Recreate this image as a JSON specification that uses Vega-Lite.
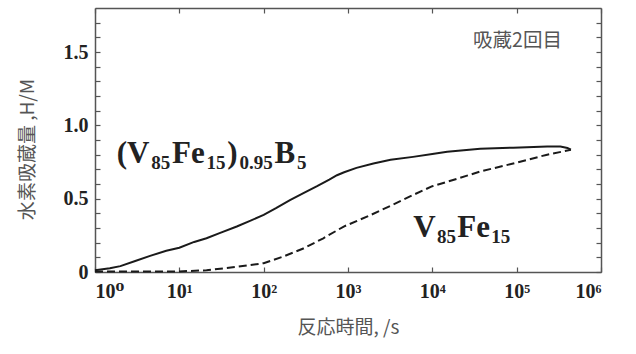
{
  "$schema": "https://vega.github.io/schema/vega-lite/v6.json",
  "autosize": "none",
  "width": 506,
  "height": 264,
  "padding": {"left": 95, "top": 8, "right": 35, "bottom": 82},
  "background": "white",
  "config": {
    "view": {"stroke": null},
    "axis": {
      "grid": false,
      "domainColor": "#555555",
      "domainWidth": 1.5,
      "tickColor": "#555555",
      "tickWidth": 1.2,
      "tickSize": -5,
      "labelFont": "Liberation Serif, DejaVu Serif",
      "labelFontWeight": "bold",
      "labelColor": "#222222",
      "labelFontSize": 20,
      "titleFont": "Noto Sans CJK JP",
      "titleFontWeight": "normal",
      "titleColor": "#555555",
      "titleFontSize": 19,
      "labelOverlap": false
    }
  },
  "datasets": {
    "curves": [
      {"series": "B", "t": 1, "v": 0.012},
      {"series": "B", "t": 1.5, "v": 0.025},
      {"series": "B", "t": 2, "v": 0.04},
      {"series": "B", "t": 3, "v": 0.075},
      {"series": "B", "t": 4.5, "v": 0.11},
      {"series": "B", "t": 7, "v": 0.145},
      {"series": "B", "t": 10, "v": 0.165},
      {"series": "B", "t": 15, "v": 0.205},
      {"series": "B", "t": 21, "v": 0.23},
      {"series": "B", "t": 30, "v": 0.265},
      {"series": "B", "t": 48, "v": 0.31},
      {"series": "B", "t": 70, "v": 0.35},
      {"series": "B", "t": 100, "v": 0.39},
      {"series": "B", "t": 140, "v": 0.435},
      {"series": "B", "t": 205, "v": 0.49},
      {"series": "B", "t": 300, "v": 0.54},
      {"series": "B", "t": 430, "v": 0.585},
      {"series": "B", "t": 600, "v": 0.63},
      {"series": "B", "t": 740, "v": 0.66},
      {"series": "B", "t": 900, "v": 0.68},
      {"series": "B", "t": 1260, "v": 0.71},
      {"series": "B", "t": 2000, "v": 0.74},
      {"series": "B", "t": 3200, "v": 0.765},
      {"series": "B", "t": 5900, "v": 0.785},
      {"series": "B", "t": 10000, "v": 0.805},
      {"series": "B", "t": 15000, "v": 0.82},
      {"series": "B", "t": 37000, "v": 0.84},
      {"series": "B", "t": 91000, "v": 0.848},
      {"series": "B", "t": 230000, "v": 0.855},
      {"series": "B", "t": 330000, "v": 0.855},
      {"series": "B", "t": 400000, "v": 0.846},
      {"series": "B", "t": 440000, "v": 0.835},
      {"series": "F", "t": 1, "v": 0.004},
      {"series": "F", "t": 3, "v": 0.003},
      {"series": "F", "t": 10, "v": 0.004},
      {"series": "F", "t": 21, "v": 0.012},
      {"series": "F", "t": 48, "v": 0.035},
      {"series": "F", "t": 100, "v": 0.06},
      {"series": "F", "t": 170, "v": 0.105},
      {"series": "F", "t": 295, "v": 0.16},
      {"series": "F", "t": 510, "v": 0.23},
      {"series": "F", "t": 890, "v": 0.31},
      {"series": "F", "t": 1800, "v": 0.385},
      {"series": "F", "t": 3160, "v": 0.45},
      {"series": "F", "t": 5900, "v": 0.525},
      {"series": "F", "t": 10000, "v": 0.585},
      {"series": "F", "t": 15000, "v": 0.615},
      {"series": "F", "t": 37000, "v": 0.685},
      {"series": "F", "t": 91000, "v": 0.74},
      {"series": "F", "t": 230000, "v": 0.80},
      {"series": "F", "t": 440000, "v": 0.833}
    ]
  },
  "resolve": {"axis": {"x": "independent", "y": "independent"}},
  "layer": [
    {
      "data": {"name": "curves"},
      "transform": [{"filter": "datum.series === 'B'"}],
      "mark": {"type": "line", "color": "#1a1a1a", "strokeWidth": 2},
      "encoding": {
        "x": {
          "field": "t", "type": "quantitative",
          "scale": {"type": "log", "domain": [1, 1000000], "nice": false},
          "axis": {
            "orient": "bottom",
            "values": [1, 10, 100, 1000, 10000, 100000, 1000000],
            "labelExpr": "'10' + ['⁰','¹','²','³','⁴','⁵','⁶'][round(log(datum.value)/LN10)]",
            "labelPadding": 14,
            "title": "反応時間, /s",
            "titlePadding": 17
          }
        },
        "y": {
          "field": "v", "type": "quantitative",
          "scale": {"domain": [0, 1.8], "nice": false, "zero": false},
          "axis": {
            "orient": "left",
            "values": [0, 0.1, 0.2, 0.3, 0.4, 0.5, 0.6, 0.7, 0.8, 0.9, 1.0, 1.1, 1.2, 1.3, 1.4, 1.5, 1.6, 1.7],
            "labelExpr": "datum.value == 0 ? '0' : (round(datum.value*10) % 5 == 0 ? format(datum.value, '.1f') : '')",
            "labelPadding": 12,
            "title": "水素吸蔵量 ,H/M",
            "titlePadding": 26,
            "titleY": 141
          }
        }
      }
    },
    {
      "data": {"name": "curves"},
      "transform": [{"filter": "datum.series === 'F'"}],
      "mark": {"type": "line", "color": "#1a1a1a", "strokeWidth": 2, "strokeDash": [8, 4]},
      "encoding": {
        "x": {
          "field": "t", "type": "quantitative",
          "axis": {
            "orient": "top",
            "values": [1, 10, 100, 1000, 10000, 100000, 1000000],
            "labels": false,
            "title": null
          }
        },
        "y": {
          "field": "v", "type": "quantitative",
          "axis": {
            "orient": "right",
            "values": [0, 0.1, 0.2, 0.3, 0.4, 0.5, 0.6, 0.7, 0.8, 0.9, 1.0, 1.1, 1.2, 1.3, 1.4, 1.5, 1.6, 1.7],
            "labels": false,
            "title": null
          }
        }
      }
    },
    {
      "data": {"values": [
        {"t": 1.808, "v": 0.743, "label": "(V"},
        {"t": 8.185, "v": 0.743, "label": "Fe"},
        {"t": 37.05, "v": 0.743, "label": ")"},
        {"t": 134.4, "v": 0.743, "label": "B"},
        {"t": 5950, "v": 0.2407, "label": "V"},
        {"t": 19780, "v": 0.2407, "label": "Fe"}
      ]},
      "mark": {"type": "text", "align": "left", "baseline": "alphabetic", "font": "Liberation Serif", "fontWeight": "bold", "fontSize": 31, "color": "#222222"},
      "encoding": {
        "x": {"field": "t", "type": "quantitative", "axis": null},
        "y": {"field": "v", "type": "quantitative", "axis": null},
        "text": {"field": "label"}
      }
    },
    {
      "data": {"values": [
        {"t": 4.638, "v": 0.702, "label": "85"},
        {"t": 21.0, "v": 0.702, "label": "15"},
        {"t": 51.57, "v": 0.702, "label": "0.95"},
        {"t": 248.5, "v": 0.702, "label": "5"},
        {"t": 11360, "v": 0.2, "label": "85"},
        {"t": 50040, "v": 0.2, "label": "15"}
      ]},
      "mark": {"type": "text", "align": "left", "baseline": "alphabetic", "font": "Liberation Serif", "fontWeight": "bold", "fontSize": 19, "color": "#222222"},
      "encoding": {
        "x": {"field": "t", "type": "quantitative", "axis": null},
        "y": {"field": "v", "type": "quantitative", "axis": null},
        "text": {"field": "label"}
      }
    },
    {
      "data": {"values": [{"t": 30400, "v": 1.577, "label": "吸蔵2回目"}]},
      "mark": {"type": "text", "align": "left", "baseline": "middle", "font": "Noto Sans CJK JP", "fontSize": 19.5, "color": "#555555"},
      "encoding": {
        "x": {"field": "t", "type": "quantitative", "axis": null},
        "y": {"field": "v", "type": "quantitative", "axis": null},
        "text": {"field": "label"}
      }
    }
  ]
}
